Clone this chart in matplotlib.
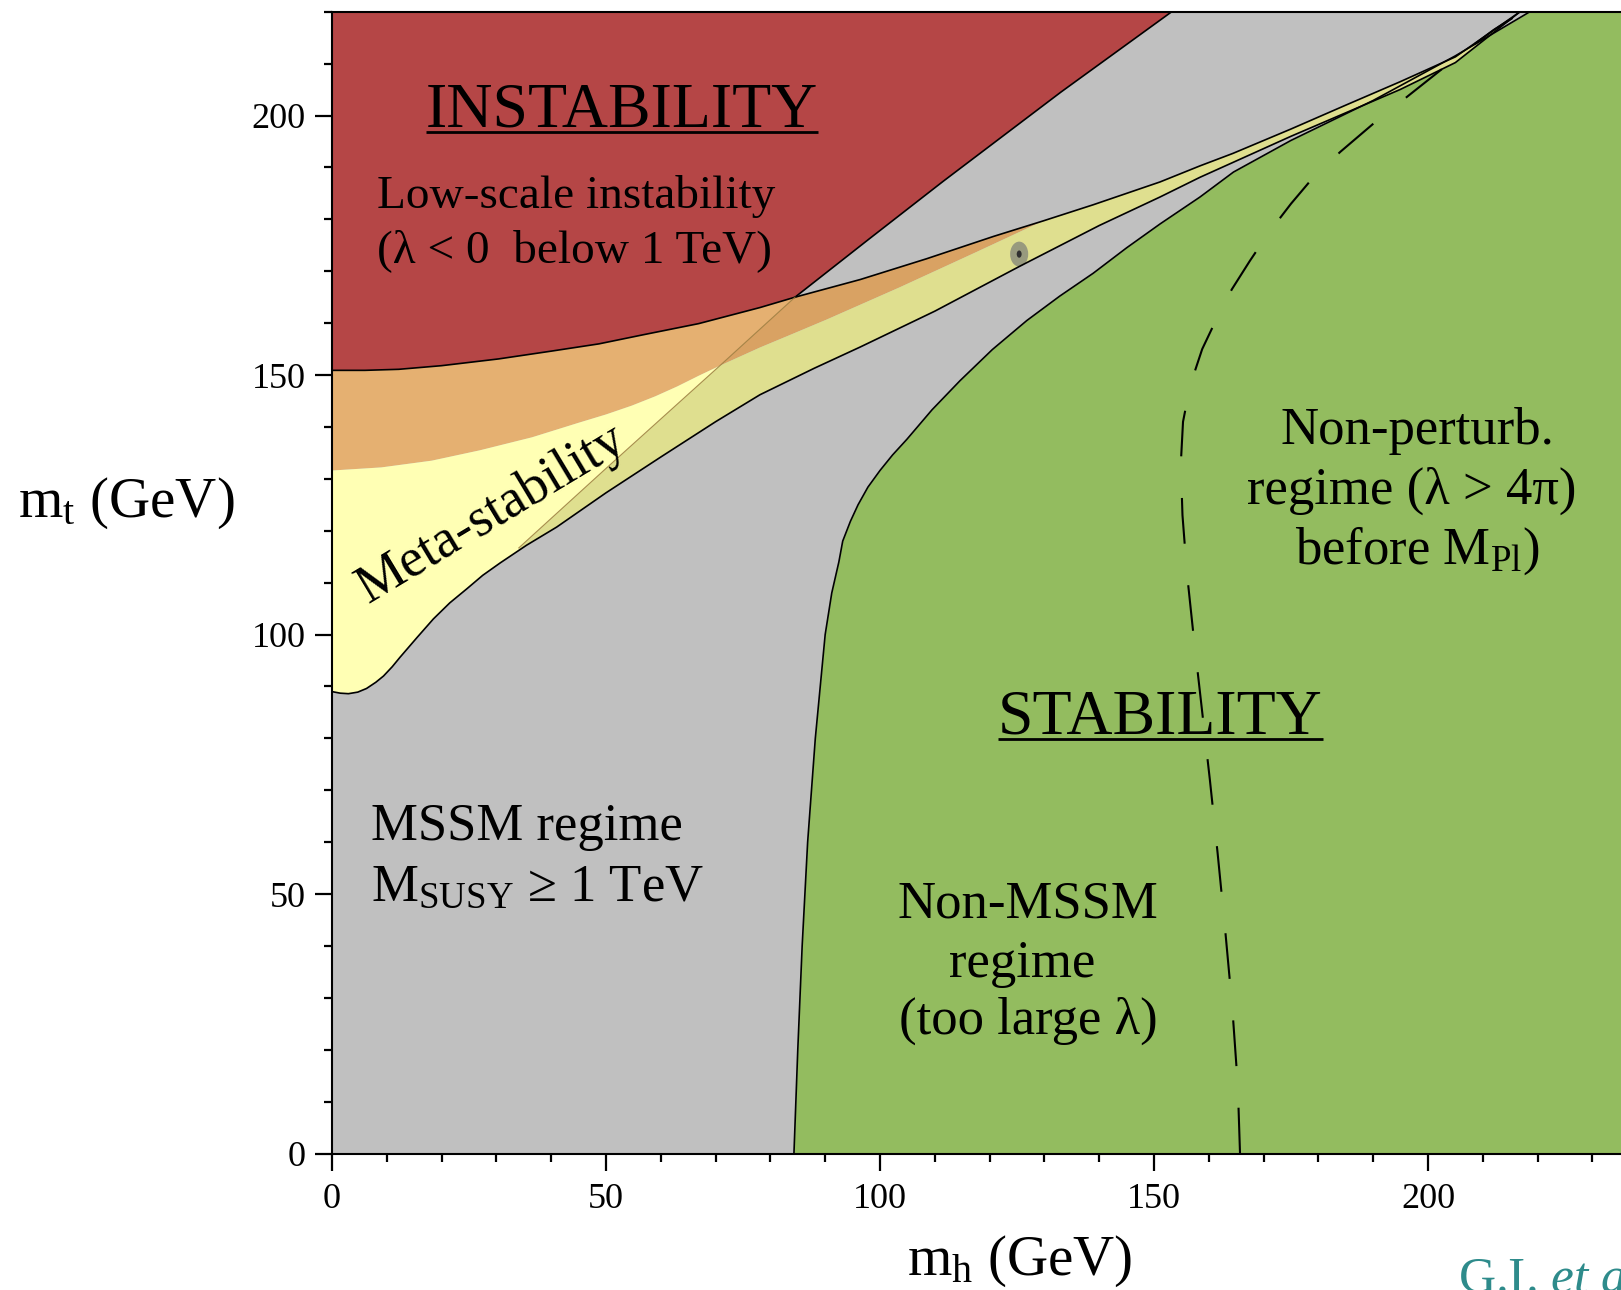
import numpy as np
import matplotlib
matplotlib.use('Agg')
import matplotlib.pyplot as plt
from matplotlib.patches import Polygon, Ellipse
from matplotlib.ticker import MultipleLocator

plt.rcParams['font.family'] = ['Liberation Serif', 'DejaVu Serif']
plt.rcParams['mathtext.fontset'] = 'custom'
plt.rcParams['mathtext.rm'] = 'Liberation Serif'
plt.rcParams['mathtext.it'] = 'Liberation Serif:italic'

# boundary curves (m_h, m_t) in GeV
# A: top of the instability/meta-stability band
A_x = [0, 6, 12.2, 20, 30.4, 40, 48.7, 57, 66.9, 78.1, 84.5, 96.4, 108.5, 120.7,
       129.8, 138.9, 151.1, 158.4, 164.4, 175, 185, 194.9, 205, 216.8]
A_y = [150.9, 150.9, 151.1, 151.8, 153.1, 154.6, 156.0, 157.8, 159.9, 163.0, 165.0,
       168.4, 172.4, 176.7, 179.7, 182.8, 187.2, 190.3, 192.7, 197.4, 202.0, 206.5,
       211.3, 220.0]
# B: orange / yellow boundary
B_x = [0, 9, 18.2, 27, 36.5, 45, 50, 54.7, 59, 63, 67, 71.2, 78.1, 84, 90.3, 103.6,
       117.6, 129.8]
B_y = [131.6, 132.2, 133.5, 135.5, 138.0, 140.8, 142.4, 144.1, 145.9, 147.8, 149.9,
       152.0, 155.3, 157.9, 160.7, 166.9, 173.7, 179.7]
# C: lower edge of meta-stability
C_x = [0, 1.5, 3, 4.7, 6.3, 8, 9.4, 11, 12.4, 15.5, 18.5, 21.5, 24.6, 27.5, 30.7,
       35.5, 41, 50, 60, 70, 78.1, 88, 96.4, 110, 125.4, 140, 151.1, 158.4, 175,
       194.9, 205, 216.8]
C_y = [89.0, 88.7, 88.6, 88.9, 89.6, 90.8, 92.0, 93.8, 95.6, 99.4, 103.0, 106.1,
       108.8, 111.4, 113.8, 117.2, 120.7, 127.3, 134.2, 141.0, 146.2, 151.3, 155.4,
       162.3, 170.9, 178.8, 184.3, 188.1, 196.0, 205.0, 210.2, 220.0]
# D: low-scale instability edge
D_x = [34.1, 50, 71.2, 84.5, 98, 111.5, 133, 153.5]
D_y = [116.7, 132.0, 152.2, 165.0, 176.2, 187.3, 204.5, 220.2]
# G: MSSM / non-MSSM edge
G_x = [84.3, 85.0, 85.8, 86.8, 88.2, 90.0, 91.2, 92.5, 93.2, 94.6, 96.0, 97.8,
       100.0, 102.3, 104.9, 109.5, 114.6, 120.5, 126.8, 132.8, 138.9, 145.0, 151.1,
       158.4, 164.5, 175, 190, 205, 218.6]
G_y = [0, 20, 40, 60, 80, 100, 108, 114, 118, 121.8, 125, 128.4, 131.6, 134.6,
       137.6, 143.3, 148.9, 154.9, 160.5, 165.2, 169.6, 174.5, 179.1, 184.3, 189.1,
       195.2, 202.9, 211.5, 220]
# dashed: non-perturbative limit
P_x = [165.7, 165.3, 164.3, 163.0, 161.6, 160.2, 158.7, 157.2, 156.0, 155.2, 154.9,
       155.3, 156.6, 158.8, 161.5, 164.2, 167.5, 171.0, 175.0, 179.0, 184.0, 190.0,
       197.0, 205.0, 212.0, 218.0]
P_y = [0, 13, 28, 43, 58, 72, 86, 100, 112, 123, 133, 141, 148, 155, 161, 166.5, 172,
       177.5, 183, 188, 193, 198.4, 204.3, 211, 216.5, 220.5]
# measured point
pt_x, pt_y = 125.4, 173.3

A_x, A_y, B_x, B_y = map(np.array, (A_x, A_y, B_x, B_y))
C_x, C_y, D_x, D_y = map(np.array, (C_x, C_y, D_x, D_y))

GRAY = '#c0c0c0'
RED = '#b54646'
GREEN = '#93bc5f'
ORANGE_L = '#e5b071'
ORANGE_D = '#d9a263'
YELLOW_L = '#ffffb4'
YELLOW_D = '#dfdf8f'

fig = plt.figure(figsize=(16.21, 12.90), dpi=100)
ax = fig.add_axes([0.2048, 0.1058, 250 * 5.48 / 1621, 220 * 5.19 / 1290])
ax.set_xlim(0, 250)
ax.set_ylim(0, 220)
ax.set_facecolor(GRAY)

# regions left / right of curve D, used as clip paths
left_D = Polygon(np.vstack([np.column_stack([D_x, D_y]),
                            [[D_x[-1], 220], [0, 220], [0, 0], [D_x[0], 0]]]),
                 transform=ax.transData)
right_D = Polygon(np.vstack([np.column_stack([D_x, D_y]),
                             [[D_x[-1], 220], [300, 220], [300, 0], [D_x[0], 0]]]),
                  transform=ax.transData)

# green stability region
ax.fill_betweenx(G_y, G_x, 300, color=GREEN, lw=0)

# red low-scale instability
red = ax.fill_between(A_x, A_y, 220, color=RED, lw=0)
red.set_clip_path(left_D)

# orange band between A and B
m = A_x <= B_x[-1]
orange_poly = np.vstack([np.column_stack([A_x[m], A_y[m]]),
                         np.column_stack([B_x[::-1], B_y[::-1]])])
# yellow band between B/A and C
m2 = A_x > B_x[-1]
yellow_poly = np.vstack([np.column_stack([C_x, C_y]),
                         np.column_stack([A_x[m2][::-1], A_y[m2][::-1]]),
                         np.column_stack([B_x[::-1], B_y[::-1]])])

for poly, c_left, c_right in [(orange_poly, ORANGE_L, ORANGE_D),
                              (yellow_poly, YELLOW_L, YELLOW_D)]:
    p1 = ax.fill(poly[:, 0], poly[:, 1], color=c_left, lw=0)[0]
    p1.set_clip_path(left_D)
    p2 = ax.fill(poly[:, 0], poly[:, 1], color=c_right, lw=0)[0]
    p2.set_clip_path(right_D)

# boundary lines
ax.plot(A_x, A_y, color='black', lw=1.2)
ax.plot(C_x, C_y, color='black', lw=1.2)
ax.plot(G_x, G_y, color='black', lw=1.2)
up = D_x >= 84.5
ax.plot(D_x[up], D_y[up], color='black', lw=1.2)
ax.plot(D_x[D_x <= 84.5], D_y[D_x <= 84.5], color='#9a7a3a', lw=0.8, alpha=0.8)
ax.plot(P_x, P_y, color='black', lw=1.5, dashes=(22, 20))

# measured point
ax.add_patch(Ellipse((pt_x, pt_y), 3.3, 4.8, color='#8c8e7c', alpha=0.85, lw=0))
ax.add_patch(Ellipse((pt_x, pt_y), 0.9, 1.4, color='#303030', lw=0))

# axes style
for s in ['left', 'bottom', 'top']:
    ax.spines[s].set_linewidth(1.5)
ax.spines['right'].set_visible(False)
ax.set_xticks([0, 50, 100, 150, 200])
ax.set_yticks([0, 50, 100, 150, 200])
ax.xaxis.set_minor_locator(MultipleLocator(10))
ax.yaxis.set_minor_locator(MultipleLocator(10))
ax.tick_params(which='major', direction='out', length=12, width=1.6, labelsize=26)
ax.tick_params(axis='y', which='major', pad=7)
ax.tick_params(axis='x', which='major', pad=9)
ax.tick_params(which='minor', direction='out', length=6, width=1.6)

# region labels
t1 = ax.text(52.9, 197.9, 'INSTABILITY', fontsize=46, ha='center', va='baseline')
t2 = ax.text(151.2, 80.9, 'STABILITY', fontsize=46, ha='center', va='baseline')
ax.text(8.3, 182.2, 'Low-scale instability', fontsize=34, ha='left', va='baseline')
ax.text(8.3, 171.7, '(\u03bb < 0  below 1 TeV)', fontsize=34, ha='left', va='baseline')
ax.text(30.3, 121.0, 'Meta-stability', fontsize=39, ha='center', va='baseline',
        rotation=31, rotation_mode='anchor')
ax.text(7.2, 60.4, 'MSSM regime', fontsize=38, ha='left', va='baseline')
ax.text(7.2, 48.6, 'M$_{\\mathrm{SUSY}}$ \u2265 1 TeV', fontsize=38, ha='left',
        va='baseline')
ax.text(127, 45.4, 'Non-MSSM', fontsize=38, ha='center', va='baseline')
ax.text(126, 34.1, 'regime', fontsize=38, ha='center', va='baseline')
ax.text(127, 23.1, '(too large \u03bb)', fontsize=38, ha='center', va='baseline')
ax.text(198.1, 136.7, 'Non-perturb.', fontsize=38, ha='center', va='baseline')
ax.text(197.0, 125.3, 'regime (\u03bb > 4\u03c0)', fontsize=38, ha='center', va='baseline')
ax.text(198.1, 113.7, r'before M$_{\mathrm{Pl}}$)', fontsize=38, ha='center', va='baseline')

# axis labels
fig.text(126 / 1621, 1 - 517 / 1290, r'm$_{\mathrm{t}}$ (GeV)', fontsize=41,
         ha='center', va='baseline')
fig.text(1020 / 1621, 1 - 1275 / 1290, r'm$_{\mathrm{h}}$ (GeV)', fontsize=41,
         ha='center', va='baseline')
# credit runs off the bottom-right corner, as in the original
fig.text(1458 / 1621, 1 - 1292 / 1290, r'G.I. $\mathit{et\ al}$', fontsize=37,
         color='#2e8b8b', ha='left', va='baseline')

# underline the two headings
fig.canvas.draw()
inv = ax.transData.inverted()
for t in (t1, t2):
    bb = t.get_window_extent()
    (x0, _), (x1, _) = inv.transform([(bb.x0, bb.y0), (bb.x1, bb.y1)])
    yb = t.get_position()[1] - 1.1
    ax.plot([x0, x1], [yb, yb], color='black', lw=2.0, solid_capstyle='butt')

fig.savefig('out.png', dpi=100)
